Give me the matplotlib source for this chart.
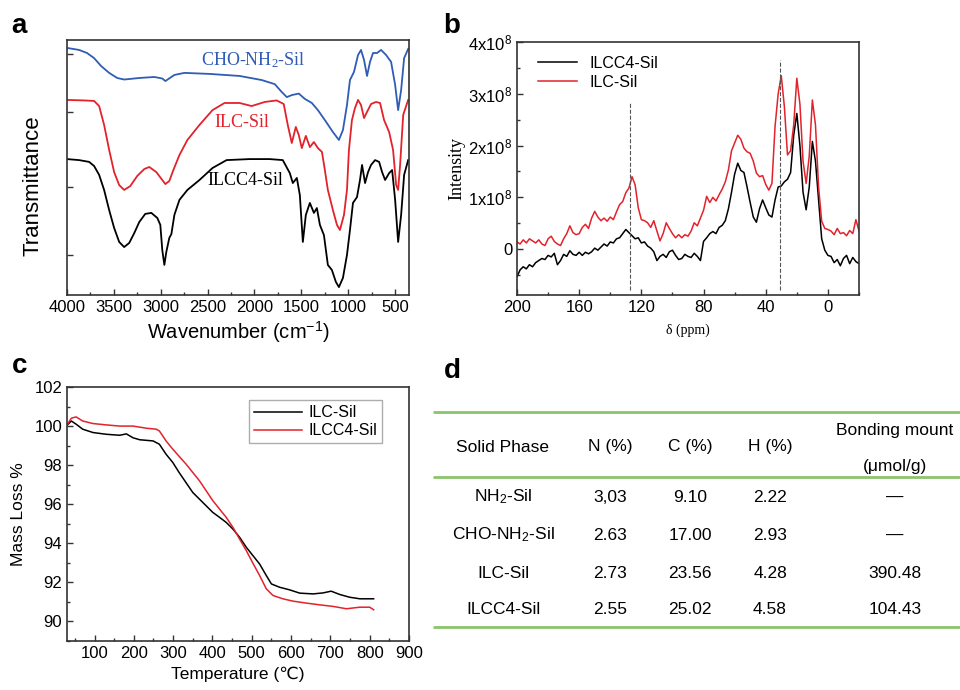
import matplotlib
matplotlib.use("Agg")
import matplotlib.pyplot as plt
from matplotlib.ticker import MultipleLocator, FixedLocator, NullFormatter

plt.rcParams['font.family'] = ['Liberation Sans', 'DejaVu Sans']
plt.rcParams['mathtext.default'] = 'regular'
plt.rcParams['xtick.direction'] = 'in'
plt.rcParams['ytick.direction'] = 'in'

# ---- panel a: FTIR (wavenumber, transmittance a.u.)
cho_wn = [4000, 3871, 3786, 3711, 3636, 3550, 3464, 3390, 3229, 3068, 2983, 2950, 2918, 2854,
          2747, 2479, 2158, 1922, 1783, 1708, 1654, 1601, 1526, 1462, 1387, 1322, 1248, 1162,
          1098, 1055, 1012, 980, 937, 894, 862, 830, 798, 766, 734, 691, 648, 594, 541, 498,
          466, 434, 402, 359]
cho_t = [96.9, 96.1, 94.9, 92.9, 89.8, 87.1, 85.1, 84.5, 85.1, 85.5, 84.9, 83.9, 84.7, 86.3,
         87.1, 86.7, 85.9, 84.3, 82.7, 79.6, 77.6, 78.4, 79.0, 76.9, 75.3, 72.5, 68.6, 63.9,
         60.8, 64.7, 74.5, 84.3, 87.5, 94.1, 96.1, 92.2, 85.9, 91.4, 94.9, 94.9, 96.1, 94.1,
         91.4, 82.4, 72.5, 80.4, 92.9, 96.5]

ilc_wn = [4000, 3818, 3711, 3657, 3604, 3550, 3497, 3443, 3390, 3325, 3250, 3175, 3122, 3047,
          2983, 2950, 2908, 2865, 2800, 2715, 2586, 2447, 2319, 2158, 2029, 1890, 1762, 1687,
          1644, 1601, 1558, 1526, 1494, 1451, 1408, 1365, 1322, 1279, 1248, 1216, 1162, 1119,
          1087, 1044, 1012, 991, 959, 927, 894, 862, 830, 798, 755, 702, 659, 616, 562, 520,
          487, 466, 445, 412, 359]
ilc_t = [76.5, 76.3, 76.1, 74.1, 66.7, 56.9, 48.2, 43.1, 41.2, 42.7, 46.7, 49.4, 50.2, 48.2,
         45.1, 43.5, 44.7, 49.0, 54.9, 60.8, 66.7, 72.5, 75.3, 75.3, 74.1, 75.7, 76.3, 74.9,
         66.7, 59.6, 65.9, 62.7, 57.6, 62.4, 58.0, 60.0, 57.6, 56.1, 49.0, 41.2, 33.3, 27.5,
         25.5, 31.4, 41.2, 56.9, 68.6, 73.3, 76.5, 74.5, 69.4, 71.8, 74.9, 75.7, 75.3, 68.6,
         63.9, 56.9, 43.1, 41.2, 51.0, 70.6, 76.5]

ilcc4_wn = [4000, 3871, 3764, 3711, 3657, 3604, 3550, 3497, 3443, 3390, 3336, 3282, 3229, 3165,
            3100, 3036, 3004, 2983, 2961, 2940, 2908, 2886, 2854, 2800, 2715, 2586, 2447, 2297,
            2051, 1837, 1697, 1622, 1590, 1547, 1515, 1483, 1451, 1408, 1365, 1333, 1301, 1258,
            1216, 1173, 1130, 1098, 1055, 1012, 980, 948, 905, 873, 851, 819, 787, 755, 712,
            669, 637, 605, 562, 530, 498, 466, 434, 402, 359]
ilcc4_t = [53.3, 52.9, 52.2, 50.6, 47.1, 41.2, 33.3, 26.3, 20.8, 18.8, 20.4, 24.3, 28.6, 31.8,
           32.2, 30.2, 27.5, 17.6, 11.8, 16.9, 22.4, 23.9, 31.4, 37.3, 41.2, 45.1, 49.8, 52.9,
           53.3, 53.3, 52.9, 47.8, 43.9, 45.9, 39.2, 20.8, 31.4, 36.1, 32.2, 34.1, 27.5, 23.5,
           11.8, 9.8, 5.1, 3.1, 6.7, 15.7, 25.5, 36.1, 38.4, 45.1, 51.0, 43.9, 48.2, 51.0, 52.9,
           52.2, 48.2, 45.1, 47.8, 49.0, 37.3, 20.8, 31.4, 47.1, 52.9]

# ---- panel b: 13C NMR (ppm, intensity / 1e8)
ppm = list(range(200, -21, -2))
nmr_ilcc4 = [-0.53, -0.40, -0.34, -0.38, -0.30, -0.34, -0.26, -0.22, -0.18, -0.20, -0.12, -0.15,
             -0.08, -0.30, -0.22, -0.10, -0.14, -0.03, -0.10, -0.12, -0.06, -0.12, -0.06, -0.09,
             -0.05, 0.02, -0.02, 0.04, 0.10, 0.06, 0.14, 0.12, 0.20, 0.22, 0.30, 0.38, 0.32, 0.26,
             0.20, 0.22, 0.12, 0.14, 0.06, 0.02, -0.05, -0.22, -0.14, -0.10, -0.16, -0.05, -0.02,
             -0.12, -0.20, -0.18, -0.10, -0.14, -0.16, -0.08, -0.14, -0.22, 0.15, 0.22, 0.30, 0.34,
             0.30, 0.42, 0.46, 0.55, 0.78, 1.10, 1.45, 1.66, 1.52, 1.48, 1.20, 0.90, 0.62, 0.52,
             0.78, 0.95, 0.80, 0.66, 0.62, 0.95, 1.20, 1.22, 1.30, 1.35, 1.48, 2.20, 2.62, 2.00,
             1.10, 0.76, 1.20, 2.08, 1.70, 0.95, 0.20, -0.02, -0.12, -0.14, -0.26, -0.20, -0.32,
             -0.18, -0.12, -0.28, -0.16, -0.24, -0.28]
nmr_ilc = [0.14, 0.10, 0.18, 0.12, 0.20, 0.16, 0.12, 0.18, 0.10, 0.07, 0.20, 0.25, 0.15, 0.10,
           0.07, 0.20, 0.30, 0.45, 0.32, 0.28, 0.30, 0.42, 0.48, 0.40, 0.60, 0.73, 0.62, 0.55,
           0.60, 0.54, 0.62, 0.57, 0.72, 0.86, 0.92, 1.09, 1.18, 1.40, 1.24, 0.80, 0.57, 0.55,
           0.51, 0.42, 0.55, 0.35, 0.16, 0.30, 0.51, 0.40, 0.30, 0.22, 0.28, 0.22, 0.28, 0.25,
           0.35, 0.51, 0.45, 0.60, 0.75, 1.02, 0.90, 1.00, 0.93, 1.05, 1.16, 1.30, 1.53, 1.90,
           2.05, 2.20, 2.12, 1.95, 1.88, 1.85, 1.70, 1.47, 1.40, 1.42, 1.25, 1.14, 1.27, 2.37,
           3.00, 3.35, 2.75, 1.82, 1.90, 2.40, 3.30, 2.80, 1.70, 1.27, 1.80, 2.88, 2.40, 1.20,
           0.54, 0.40, 0.38, 0.35, 0.28, 0.40, 0.30, 0.32, 0.26, 0.36, 0.30, 0.57, 0.35]
nmr_marks = [127, 31]

# ---- panel c: TGA (temperature C, mass %)
tga_ilc_T = [28, 41, 53, 70, 96, 130, 164, 181, 198, 215, 249, 265, 282, 299, 316, 333, 350,
             367, 384, 401, 418, 435, 452, 469, 486, 503, 520, 537, 550, 571, 596, 622, 656,
             681, 702, 724, 749, 775, 800, 810]
tga_ilc_m = [100.0, 100.26, 100.1, 99.84, 99.67, 99.58, 99.53, 99.6, 99.4, 99.3, 99.24, 99.07,
             98.56, 98.14, 97.6, 97.1, 96.6, 96.26, 95.92, 95.58, 95.33, 95.07, 94.73, 94.31,
             93.8, 93.37, 92.94, 92.35, 91.92, 91.75, 91.62, 91.45, 91.41, 91.46, 91.55, 91.38,
             91.24, 91.16, 91.16, 91.16]
tga_ilcc4_T = [28, 41, 53, 70, 96, 130, 164, 198, 232, 257, 265, 282, 299, 333, 367, 401, 435,
               452, 469, 486, 503, 520, 537, 554, 579, 605, 639, 673, 707, 741, 775, 800, 810]
tga_ilcc4_m = [100.0, 100.4, 100.47, 100.26, 100.13, 100.06, 100.0, 100.0, 99.89, 99.84, 99.75,
               99.24, 98.82, 98.05, 97.2, 96.18, 95.33, 94.82, 94.22, 93.63, 92.98, 92.35,
               91.67, 91.33, 91.16, 91.04, 90.94, 90.85, 90.77, 90.65, 90.73, 90.73, 90.6]

# ---- panel d: elemental analysis table
tbl_header = ['Solid Phase', 'N (%)', 'C (%)', 'H (%)']
tbl_phase = ['NH$_2$-Sil', 'CHO-NH$_2$-Sil', 'ILC-Sil', 'ILCC4-Sil']
tbl_n = ['3,03', '2.63', '2.73', '2.55']
tbl_c = ['9.10', '17.00', '23.56', '25.02']
tbl_h = ['2.22', '2.93', '4.28', '4.58']
tbl_bond = ['\u2014', '\u2014', '390.48', '104.43']

BLUE = '#2f5cb4'
RED = '#e3222b'
GREEN = '#8cc46c'
W, H = 960, 690

fig = plt.figure(figsize=(9.6, 6.9), dpi=100)


def px_axes(x0, y0, x1, y1):
    return fig.add_axes([x0 / W, 1 - y1 / H, (x1 - x0) / W, (y1 - y0) / H])


def style(ax, size=11.5):
    for s in ax.spines.values():
        s.set_linewidth(1.2)
        s.set_color('#333333')
    ax.tick_params(which='major', length=4, width=1, colors='#333333', labelcolor='black',
                   labelsize=size)
    ax.tick_params(which='minor', length=2.5, width=1, colors='#333333')


# a
ax = px_axes(67, 40, 409, 295)
ax.plot(cho_wn, cho_t, color=BLUE, lw=1.3)
ax.plot(ilc_wn, ilc_t, color=RED, lw=1.3)
ax.plot(ilcc4_wn, ilcc4_t, color='black', lw=1.3)
ax.set_xlim(4000, 350)
ax.set_ylim(0, 100)
ax.xaxis.set_major_locator(MultipleLocator(500))
ax.xaxis.set_minor_locator(MultipleLocator(250))
ax.yaxis.set_major_locator(FixedLocator([15.7, 42.4, 71.8, 94.5]))
ax.yaxis.set_major_formatter(NullFormatter())
style(ax, 12)
ax.set_xlabel('Wavenumber (cm$^{\\mathregular{-1}}$)', fontsize=14.5, labelpad=3)
ax.set_ylabel('Transmittance', fontsize=16, labelpad=10)
ax.yaxis.set_label_coords(-0.07, 0.43)
ax.text(0.545, 0.92, 'CHO-NH$_2$-Sil', transform=ax.transAxes, color=BLUE,
        family='Liberation Serif', fontsize=13, ha='center', va='center')
ax.text(0.512, 0.675, 'ILC-Sil', transform=ax.transAxes, color=RED,
        family='Liberation Serif', fontsize=13, ha='center', va='center')
ax.text(0.52, 0.45, 'ILCC4-Sil', transform=ax.transAxes, color='black',
        family='Liberation Serif', fontsize=13, ha='center', va='center')

# b
ax = px_axes(517, 42, 859, 295)
ax.plot(ppm, [v * 1e8 for v in nmr_ilcc4], color='black', lw=1.1, label='ILCC4-Sil')
ax.plot(ppm, [v * 1e8 for v in nmr_ilc], color=RED, lw=1.1, label='ILC-Sil')
for m in nmr_marks:
    ax.axvline(m, ymin=0.02, ymax=0.93 if m < 60 else 0.76, color='#555555', lw=0.8, ls='--')
ax.set_xlim(200, -20)
ax.set_ylim(-0.885e8, 4e8)
ax.xaxis.set_major_locator(MultipleLocator(40))
ax.xaxis.set_minor_locator(MultipleLocator(20))
ax.yaxis.set_major_locator(FixedLocator([0, 1e8, 2e8, 3e8, 4e8]))
ax.yaxis.set_minor_locator(MultipleLocator(0.5e8))
ax.set_yticklabels(['0', '1x10$^8$', '2x10$^8$', '3x10$^8$', '4x10$^8$'])
style(ax, 12)
ax.set_ylabel('Intensity', family='Liberation Serif', fontsize=13, labelpad=2)
ax.set_xlabel('\u03b4 (ppm)', family='Liberation Serif', fontsize=10, labelpad=6)
ax.legend(loc='upper left', frameon=False, fontsize=11.5, handlelength=2.4,
          bbox_to_anchor=(0.03, 0.99), borderaxespad=0.3, labelspacing=0.25)

# c
ax = px_axes(67, 387, 409, 641)
ax.plot(tga_ilc_T, tga_ilc_m, color='black', lw=1.1, label='ILC-Sil')
ax.plot(tga_ilcc4_T, tga_ilcc4_m, color=RED, lw=1.1, label='ILCC4-Sil')
ax.set_xlim(30, 900)
ax.set_ylim(89, 102)
ax.xaxis.set_major_locator(MultipleLocator(100))
ax.xaxis.set_minor_locator(MultipleLocator(50))
ax.yaxis.set_major_locator(MultipleLocator(2))
ax.yaxis.set_minor_locator(MultipleLocator(1))
style(ax, 12)
ax.set_xticks([100, 200, 300, 400, 500, 600, 700, 800, 900])
ax.set_xlabel('Temperature (\u2103)', fontsize=12.5, labelpad=4)
ax.set_ylabel('Mass Loss %', fontsize=12.5, labelpad=6)
leg = ax.legend(loc='upper right', fontsize=11.5, handlelength=3, fancybox=False,
                bbox_to_anchor=(0.93, 0.96), borderaxespad=0.2, labelspacing=0.2,
                borderpad=0.3, handletextpad=0.4)
leg.get_frame().set_edgecolor('#999999')
leg.get_frame().set_linewidth(1.0)

# d
ax = px_axes(420, 340, 960, 690)
ax.set_xlim(420, 960)
ax.set_ylim(690, 340)
ax.axis('off')
col_x = [503, 610, 690, 770, 895]
row_y = [497, 535, 573, 610]
for y in [412, 477, 627]:
    ax.plot([433, 960], [y, y], color=GREEN, lw=2, solid_capstyle='butt')
for x, t in zip(col_x, tbl_header):
    ax.text(x, 447, t, ha='center', va='center', fontsize=12.5)
ax.text(col_x[4], 431, 'Bonding mount', ha='center', va='center', fontsize=12.5)
ax.text(col_x[4], 466, '(\u03bcmol/g)', ha='center', va='center', fontsize=12.5)
for i, y in enumerate(row_y):
    for x, col in zip(col_x, [tbl_phase, tbl_n, tbl_c, tbl_h, tbl_bond]):
        ax.text(x, y, col[i], ha='center', va='center', fontsize=12.5)

for lab, x, y in [('a', 19, 26), ('b', 452, 26), ('c', 20, 366), ('d', 452, 371)]:
    fig.text(x / W, 1 - y / H, lab, fontsize=20, fontweight='bold', ha='center', va='center')

fig.savefig('out.png', dpi=100)
